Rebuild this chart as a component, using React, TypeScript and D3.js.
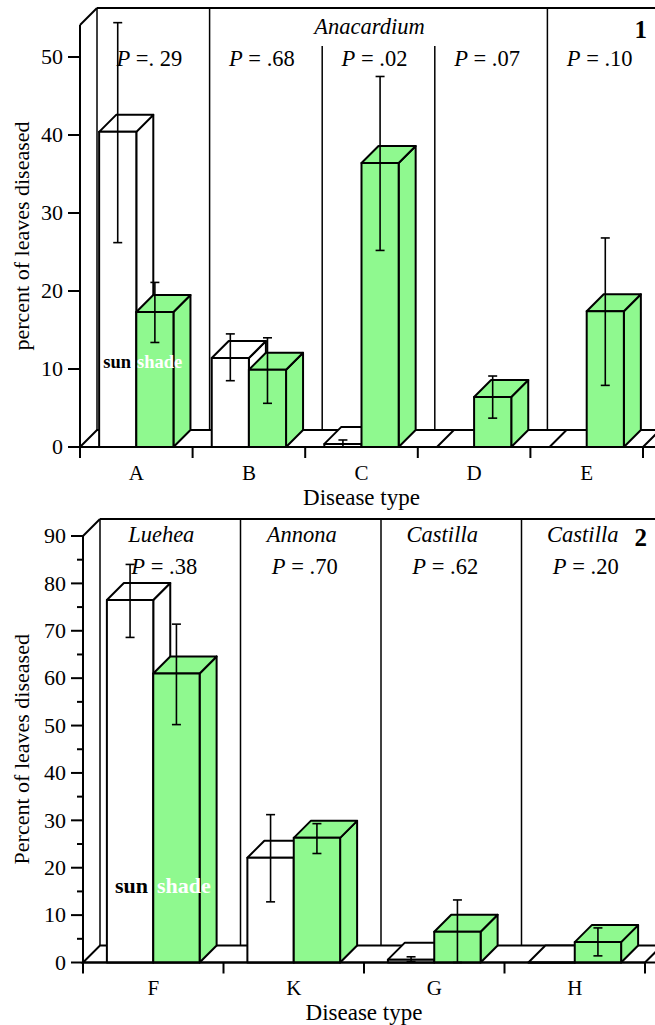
import React from "react";
import * as d3 from "d3";

const W = 655,
  H = 1025;
const DX = 17,
  DY = 17;
const GREEN = "#8ff98f";
const FONT = '"Liberation Serif", "DejaVu Serif", serif';

// panel 1 : Anacardium
const cats1 = ["A", "B", "C", "D", "E"];
const sun1 = [40.4, 11.4, 0.4, 0, 0];
const shade1 = [17.3, 9.9, 36.4, 6.4, 17.4];
const sunLo1 = [26.2, 8.5, 0, null, null];
const sunHi1 = [54.4, 14.5, 0.9, null, null];
const shadeLo1 = [13.4, 5.6, 25.2, 3.7, 7.9];
const shadeHi1 = [21.1, 14.0, 47.5, 9.1, 26.8];
const pvals1 = ["=. 29", "= .68", "= .02", "= .07", "= .10"];
const ticks1 = [0, 10, 20, 30, 40, 50];
const heads1 = [{ label: "Anacardium", from: 1, to: 3 }];

// panel 2 : Luehea, Annona, Castilla
const cats2 = ["F", "K", "G", "H"];
const sun2 = [76.5, 22.1, 0.6, 0];
const shade2 = [61.0, 26.3, 6.5, 4.3];
const sunLo2 = [68.6, 12.8, 0.2, null];
const sunHi2 = [84.0, 31.2, 1.2, null];
const shadeLo2 = [50.2, 23.0, 0, 1.4];
const shadeHi2 = [71.4, 29.3, 13.2, 7.3];
const pvals2 = ["= .38", "= .70", "= .62", "= .20"];
const ticks2 = [0, 10, 20, 30, 40, 50, 60, 70, 80, 90];
const minor2 = [5, 15, 25, 35, 45, 55, 65, 75, 85];
const heads2 = [
  { label: "Luehea", from: 0, to: 0 },
  { label: "Annona", from: 1, to: 1 },
  { label: "Castilla", from: 2, to: 2 },
  { label: "Castilla", from: 3, to: 3 },
];

type PanelProps = {
  cats: string[];
  sun: number[];
  shade: number[];
  sunLo: (number | null)[];
  sunHi: (number | null)[];
  shadeLo: (number | null)[];
  shadeHi: (number | null)[];
  pvals: string[];
  ticks: number[];
  minor: number[];
  heads: { label: string; from: number; to: number }[];
  fullDiv: boolean[];
  x0: number;
  x1: number;
  y0: number;
  yTop: number;
  yMax: number;
  yLabel: string;
  num: string;
  pY: number;
  pOff: number;
  headY: number;
  divTop: number;
  catY: number;
  titleY: number;
  yLabelX: number;
  legend: { size: number; sunEnd: number; shadeStart: number; y: number };
};

const Bar = ({ x, w, yv, y0, fill }) => {
  const top = Math.min(yv, y0);
  const front = `M${x},${y0}L${x},${top}L${x + w},${top}L${x + w},${y0}Z`;
  const topFace = `M${x},${top}L${x + DX},${top - DY}L${x + w + DX},${top - DY}L${x + w},${top}Z`;
  const side = `M${x + w},${y0}L${x + w},${top}L${x + w + DX},${top - DY}L${x + w + DX},${y0 - DY}Z`;
  return (
    <g stroke="#000" strokeWidth={2} strokeLinejoin="round" fill={fill}>
      <path d={side} />
      <path d={topFace} />
      <path d={front} />
    </g>
  );
};

const Panel = (p: PanelProps) => {
  const x = d3.scaleBand().domain(p.cats).range([p.x0, p.x1]);
  const y = d3.scaleLinear().domain([0, p.yMax]).range([p.y0, p.yTop]);
  const bw = x.bandwidth() * 0.33;
  const back = p.yTop - DY;
  const right = W + 30;
  const cx = (c: string) => (x(c) as number) + x.bandwidth() / 2;

  const errs: { x: number; lo: number; hi: number }[] = [];
  p.cats.forEach((c, i) => {
    if (p.sunLo[i] != null) errs.push({ x: cx(c) - bw / 2, lo: p.sunLo[i] as number, hi: p.sunHi[i] as number });
    if (p.shadeLo[i] != null) errs.push({ x: cx(c) + bw / 2, lo: p.shadeLo[i] as number, hi: p.shadeHi[i] as number });
  });

  return (
    <g>
      {/* back wall */}
      <g stroke="#000" fill="none">
        <line x1={p.x0} y1={p.yTop} x2={p.x0 + DX} y2={back} strokeWidth={2} />
        <line x1={p.x0 + DX} y1={back} x2={right} y2={back} strokeWidth={2} />
        <line x1={p.x0 + DX} y1={back} x2={p.x0 + DX} y2={p.y0 - DY} strokeWidth={1.5} />
        {p.cats.slice(1).map((c, i) => (
          <line
            key={c}
            x1={(x(c) as number) + DX}
            x2={(x(c) as number) + DX}
            y1={p.fullDiv[i] ? back : p.divTop}
            y2={p.y0 - DY}
            strokeWidth={1.5}
          />
        ))}
      </g>
      {/* floor */}
      <path
        d={`M${p.x0},${p.y0}L${p.x0 + DX},${p.y0 - DY}L${p.x1 + DX},${p.y0 - DY}L${p.x1},${p.y0}Z`}
        fill="#fff"
        stroke="#000"
        strokeWidth={2}
      />
      {/* bars */}
      {p.cats.map((c, i) => (
        <g key={c}>
          <Bar x={cx(c) - bw} w={bw} yv={y(p.sun[i])} y0={p.y0} fill="#fff" />
          <Bar x={cx(c)} w={bw} yv={y(p.shade[i])} y0={p.y0} fill={GREEN} />
        </g>
      ))}
      {/* error bars */}
      <g stroke="#000" strokeWidth={1.6}>
        {errs.map((e, i) => (
          <g key={i}>
            <line x1={e.x} x2={e.x} y1={y(e.lo)} y2={y(e.hi)} />
            <line x1={e.x - 4.5} x2={e.x + 4.5} y1={y(e.lo)} y2={y(e.lo)} />
            <line x1={e.x - 4.5} x2={e.x + 4.5} y1={y(e.hi)} y2={y(e.hi)} />
          </g>
        ))}
      </g>
      {/* front axes */}
      <g stroke="#000" strokeWidth={2}>
        <line x1={p.x0} x2={p.x0} y1={p.yTop} y2={p.y0 + 11} />
        <line x1={p.x0} x2={right} y1={p.y0} y2={p.y0} />
        {p.ticks.map((t) => (
          <line key={t} x1={p.x0 - 12} x2={p.x0} y1={y(t)} y2={y(t)} />
        ))}
        {p.minor.map((t) => (
          <line key={"m" + t} x1={p.x0 - 6} x2={p.x0} y1={y(t)} y2={y(t)} />
        ))}
        {p.cats.slice(1).map((c) => (
          <line key={c} x1={x(c)} x2={x(c)} y1={p.y0} y2={p.y0 + 11} />
        ))}
        <line x1={p.x1} x2={p.x1} y1={p.y0} y2={p.y0 + 11} />
      </g>
      <g fontSize={22} fill="#000">
        {p.ticks.map((t) => (
          <text key={t} x={p.x0 - 17} y={y(t)} dy="0.33em" textAnchor="end">
            {t}
          </text>
        ))}
        {p.cats.map((c) => (
          <text key={c} x={cx(c)} y={p.catY} textAnchor="middle" fontSize={21}>
            {c}
          </text>
        ))}
        <text x={(p.x0 + p.x1) / 2} y={p.titleY} textAnchor="middle" fontSize={23}>
          Disease type
        </text>
        <text
          transform={`translate(${p.yLabelX},${(p.yTop + p.y0) / 2}) rotate(-90)`}
          textAnchor="middle"
        >
          {p.yLabel}
        </text>
      </g>
      {/* headers and P values */}
      <g fontSize={22.5} fill="#000">
        {p.heads.map((h, i) => (
          <text
            key={i}
            x={((x(p.cats[h.from]) as number) + (x(p.cats[h.to]) as number) + x.bandwidth()) / 2 + 8}
            y={p.headY}
            textAnchor="middle"
            fontStyle="italic"
          >
            {h.label}
          </text>
        ))}
        {p.cats.map((c, i) => (
          <text key={c} x={cx(c) + p.pOff} y={p.pY} textAnchor="middle">
            <tspan fontStyle="italic">P</tspan> {p.pvals[i]}
          </text>
        ))}
        <text x={W - 8} y={p.headY + 4} textAnchor="end" fontWeight="bold" fontSize={25}>
          {p.num}
        </text>
      </g>
      <g fontWeight="bold" fontSize={p.legend.size}>
        <text x={p.legend.sunEnd} y={p.legend.y} textAnchor="end" fill="#000">
          sun
        </text>
        <text x={p.legend.shadeStart} y={p.legend.y} fill="#fff">
          shade
        </text>
      </g>
    </g>
  );
};

const App = () => {
  return (
    <svg
      width={W}
      height={H}
      style={{ position: "absolute", left: 0, top: 0, background: "#fff", fontFamily: FONT }}
    >
      <Panel
        cats={cats1}
        sun={sun1}
        shade={shade1}
        sunLo={sunLo1}
        sunHi={sunHi1}
        shadeLo={shadeLo1}
        shadeHi={shadeHi1}
        pvals={pvals1}
        ticks={ticks1}
        minor={[]}
        heads={heads1}
        fullDiv={[true, false, false, true]}
        x0={80}
        x1={643}
        y0={447}
        yTop={25}
        yMax={54.1}
        yLabel="percent of leaves diseased"
        num="1"
        pY={66}
        pOff={13}
        headY={34}
        divTop={46}
        catY={480}
        titleY={505}
        yLabelX={29}
        legend={{ size: 18.5, sunEnd: 131, shadeStart: 137, y: 368 }}
      />
      <Panel
        cats={cats2}
        sun={sun2}
        shade={shade2}
        sunLo={sunLo2}
        sunHi={sunHi2}
        shadeLo={shadeLo2}
        shadeHi={shadeHi2}
        pvals={pvals2}
        ticks={ticks2}
        minor={minor2}
        heads={heads2}
        fullDiv={[true, true, true]}
        x0={83}
        x1={645}
        y0={962.5}
        yTop={536}
        yMax={90}
        yLabel="Percent of leaves diseased"
        num="2"
        pY={574}
        pOff={11}
        headY={542}
        divTop={519}
        catY={995}
        titleY={1020}
        yLabelX={29}
        legend={{ size: 22, sunEnd: 148, shadeStart: 157, y: 893 }}
      />
    </svg>
  );
};

export default App;
